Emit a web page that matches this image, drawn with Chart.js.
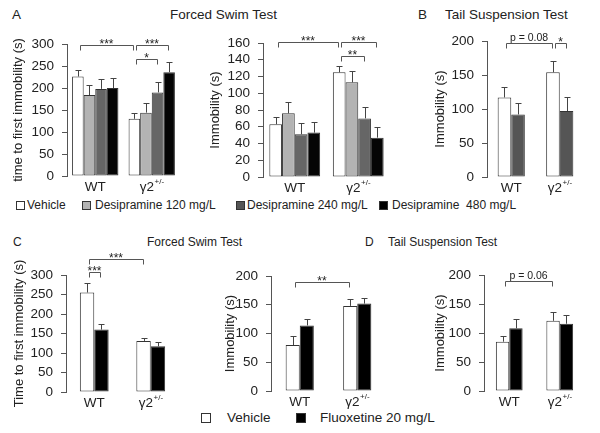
<!DOCTYPE html>
<html><head><meta charset="utf-8">
<script src="https://cdn.jsdelivr.net/npm/chart.js@4.4.1/dist/chart.umd.min.js"></script>
<style>
body{margin:0;background:#fff;width:600px;height:433px;position:relative;overflow:hidden;font-family:"Liberation Sans",Arial,sans-serif;color:#222}
.t{position:absolute;white-space:pre;line-height:1}
canvas{position:absolute}
.sw{position:absolute;width:7px;height:7px;border:1px solid #333}
</style></head><body>
<div class="t" style="left:12px;top:8px;font-size:13.5px">A</div>
<div class="t" style="left:170px;top:8px;font-size:13.5px">Forced Swim Test</div>
<div class="t" style="left:418px;top:8px;font-size:13.5px">B</div>
<div class="t" style="left:445px;top:8px;font-size:13.5px">Tail Suspension Test</div>

<div class="sw" style="left:16px;top:201px;background:#fff"></div>
<div class="t" style="left:27px;top:199px;font-size:12px">Vehicle</div>
<div class="sw" style="left:82px;top:201px;background:#b3b3b3"></div>
<div class="t" style="left:95px;top:199px;font-size:12px">Desipramine 120 mg/L</div>
<div class="sw" style="left:236px;top:201px;background:#555"></div>
<div class="t" style="left:247px;top:199px;font-size:12px">Desipramine 240 mg/L</div>
<div class="sw" style="left:379px;top:201px;background:#000"></div>
<div class="t" style="left:392px;top:199px;font-size:12px">Desipramine  480 mg/L</div>

<div class="t" style="left:13px;top:236px;font-size:12px">C</div>
<div class="t" style="left:147px;top:236px;font-size:12px">Forced Swim Test</div>
<div class="t" style="left:365px;top:236px;font-size:12px">D</div>
<div class="t" style="left:388px;top:236px;font-size:12px">Tail Suspension Test</div>

<div class="sw" style="left:201px;top:413px;width:8px;height:8px;background:#fff"></div>
<div class="t" style="left:227px;top:411px;font-size:13.5px">Vehicle</div>
<div class="sw" style="left:296px;top:413px;width:8px;height:8px;background:#000"></div>
<div class="t" style="left:320px;top:411px;font-size:13.5px">Fluoxetine 20 mg/L</div>

<script>
// ---------- data ----------
const groups = ['WT', 'γ2+/-'];

// A: Forced swim test, time to first immobility (s)
const a1Vehicle = [226, 130], a1VehicleErr = [15, 13];
const a1Desi120 = [184, 144], a1Desi120Err = [23, 23];
const a1Desi240 = [198, 190], a1Desi240Err = [23, 24];
const a1Desi480 = [200, 236], a1Desi480Err = [23, 23];
const a1Brackets = [[0, 0, 0, 1, 297, '***'], [0, 1, 3, 1, 297, '***'], [0, 1, 2, 1, 267, '*']];

// A: Forced swim test, immobility (s)
const a2Vehicle = [63, 125], a2VehicleErr = [9, 8];
const a2Desi120 = [76, 113], a2Desi120Err = [13, 14];
const a2Desi240 = [51, 70], a2Desi240Err = [13, 14];
const a2Desi480 = [53, 47], a2Desi480Err = [13, 13];
const a2Brackets = [[0, 0, 0, 1, 161, '***'], [0, 1, 3, 1, 161, '***'], [0, 1, 2, 1, 144, '**']];

// B: Tail suspension test, immobility (s)
const bVehicle = [117, 154], bVehicleErr = [15, 16];
const bDesi = [92, 97], bDesiErr = [17, 20];
const bBrackets = [[0, 0, 0, 1, 197, 'p = 0.08'], [0, 1, 1, 1, 197, '*']];

// C: Forced swim test, time to first immobility (s)
const c1Vehicle = [255, 131], c1VehicleErr = [24, 7];
const c1Fluox = [160, 117], c1FluoxErr = [14, 12];
const c1Brackets = [[0, 0, 1, 0, 307, '***'], [0, 0, 0, 1, 340, '***']];

// C: Forced swim test, immobility (s)
const c2Vehicle = [80, 148], c2VehicleErr = [15, 12];
const c2Fluox = [114, 152], c2FluoxErr = [11, 9];
const c2Brackets = [[0, 0, 0, 1, 189, '**']];

// D: Tail suspension test, immobility (s)
const dVehicle = [85, 121], dVehicleErr = [9, 15];
const dFluox = [108, 116], dFluoxErr = [17, 15];
const dBrackets = [[0, 0, 0, 1, 190, 'p = 0.06']];

// ---------- drawing ----------
const FONT = '"Liberation Sans", Arial, sans-serif';
const C_VEH = '#ffffff', C_120 = '#b3b3b3', C_240 = '#666666', C_480 = '#050505';

function panel(box, area, cfg) {
  const cv = document.createElement('canvas');
  cv.width = box.w; cv.height = box.h;
  cv.style.left = box.x + 'px'; cv.style.top = box.y + 'px';
  document.body.appendChild(cv);
  const yWidth = area.l - box.x;
  const padTop = area.t - box.y;
  const padRight = box.x + box.w - area.r;
  const xHeight = box.y + box.h - area.b;

  const overlay = {
    id: 'overlay',
    afterDatasetsDraw(chart) {
      const ctx = chart.ctx, ys = chart.scales.y;
      ctx.save();
      ctx.strokeStyle = '#444'; ctx.lineWidth = 1;
      cfg.series.forEach((s, di) => {
        chart.getDatasetMeta(di).data.forEach((bar, ci) => {
          const x = Math.round(bar.x) + 0.5;
          const y0 = ys.getPixelForValue(s.data[ci]);
          const y1 = Math.round(ys.getPixelForValue(s.data[ci] + s.err[ci])) + 0.5;
          ctx.beginPath();
          ctx.moveTo(x, y0); ctx.lineTo(x, y1);
          ctx.moveTo(x - 3, y1); ctx.lineTo(x + 3, y1);
          ctx.stroke();
        });
      });
      // significance brackets
      ctx.strokeStyle = '#555';
      cfg.brackets.forEach(([da, ca, db, cb, v, lab]) => {
        const x1 = Math.round(chart.getDatasetMeta(da).data[ca].x) + 2;
        const x2 = Math.round(chart.getDatasetMeta(db).data[cb].x) - 1;
        const y = Math.round(ys.getPixelForValue(v)) + 0.5;
        ctx.beginPath();
        ctx.moveTo(x1 + 0.5, y + 5); ctx.lineTo(x1 + 0.5, y); ctx.lineTo(x2 + 0.5, y); ctx.lineTo(x2 + 0.5, y + 5);
        ctx.stroke();
        ctx.fillStyle = '#222';
        ctx.textAlign = 'center'; ctx.textBaseline = 'alphabetic';
        if (/^\*+$/.test(lab)) { ctx.font = '12px ' + FONT; ctx.fillText(lab, (x1 + x2) / 2, y + 2.5); }
        else { ctx.font = '10.5px ' + FONT; ctx.fillText(lab, (x1 + x2) / 2, y - 3); }
      });
      // category labels
      const xs = chart.scales.x;
      ctx.fillStyle = '#222'; ctx.textBaseline = 'middle'; ctx.textAlign = 'left';
      groups.forEach((g, i) => {
        const cx = xs.getPixelForValue(i);
        const ly = area.b - box.y + 11;
        const parts = g.split('2');
        if (parts.length > 1 && parts[1]) {
          const main = parts[0] + '2', sup = parts[1];
          ctx.font = '13.5px ' + FONT; const w1 = ctx.measureText(main).width;
          ctx.font = '8px ' + FONT; const w2 = ctx.measureText(sup).width;
          const sx = cx - (w1 + w2) / 2;
          ctx.font = '13.5px ' + FONT; ctx.fillText(main, sx, ly);
          ctx.font = '8px ' + FONT; ctx.fillText(sup, sx + w1 + 0.5, ly - 5);
        } else {
          ctx.font = '13.5px ' + FONT; ctx.textAlign = 'center'; ctx.fillText(g, cx, ly); ctx.textAlign = 'left';
        }
      });
      ctx.restore();
    }
  };

  new Chart(cv, {
    type: 'bar',
    data: {
      labels: groups,
      datasets: cfg.series.map(s => ({
        label: s.label, data: s.data, backgroundColor: s.color,
        borderColor: '#333', borderWidth: 1, borderSkipped: false,
        barPercentage: 1, categoryPercentage: cfg.catPct
      }))
    },
    options: {
      responsive: false, animation: false,
      layout: { padding: { top: padTop, right: padRight, left: 0, bottom: 0 } },
      plugins: { legend: { display: false }, tooltip: { enabled: false } },
      scales: {
        x: {
          grid: { display: false }, border: { display: false },
          ticks: { display: false },
          afterFit: s => { s.height = xHeight; }
        },
        y: {
          min: 0, max: cfg.yMax,
          ticks: { stepSize: cfg.yStep, autoSkip: false, color: '#222', font: { family: FONT, size: 13.5 }, padding: 8 },
          grid: { drawOnChartArea: false, tickLength: 5, color: '#555' },
          border: { display: true, color: '#555', width: 1 },
          title: {
            display: true, text: cfg.yTitle, color: '#222',
            font: { family: FONT, size: 13 },
            padding: { top: cfg.titleX - box.x - 7.8, bottom: 0 }
          },
          afterFit: s => { s.width = yWidth; }
        }
      }
    },
    plugins: [overlay]
  });
}

panel({ x: 0, y: 0, w: 196, h: 197 }, { l: 67, r: 180, t: 44, b: 176 }, {
  series: [
    { label: 'Vehicle', data: a1Vehicle, err: a1VehicleErr, color: C_VEH },
    { label: 'Desipramine 120 mg/L', data: a1Desi120, err: a1Desi120Err, color: C_120 },
    { label: 'Desipramine 240 mg/L', data: a1Desi240, err: a1Desi240Err, color: C_240 },
    { label: 'Desipramine 480 mg/L', data: a1Desi480, err: a1Desi480Err, color: C_480 }
  ],
  yMax: 300, yStep: 50, yTitle: 'time to first immobility (s)', titleX: 18, catPct: 0.82, brackets: a1Brackets
});

panel({ x: 196, y: 0, w: 204, h: 197 }, { l: 263, r: 390, t: 43, b: 177 }, {
  series: [
    { label: 'Vehicle', data: a2Vehicle, err: a2VehicleErr, color: C_VEH },
    { label: 'Desipramine 120 mg/L', data: a2Desi120, err: a2Desi120Err, color: C_120 },
    { label: 'Desipramine 240 mg/L', data: a2Desi240, err: a2Desi240Err, color: C_240 },
    { label: 'Desipramine 480 mg/L', data: a2Desi480, err: a2Desi480Err, color: C_480 }
  ],
  yMax: 160, yStep: 20, yTitle: 'Immobility (s)', titleX: 215, catPct: 0.80, brackets: a2Brackets
});

panel({ x: 400, y: 0, w: 200, h: 197 }, { l: 487, r: 584, t: 41, b: 177 }, {
  series: [
    { label: 'Vehicle', data: bVehicle, err: bVehicleErr, color: C_VEH },
    { label: 'Desipramine', data: bDesi, err: bDesiErr, color: '#555555' }
  ],
  yMax: 200, yStep: 50, yTitle: 'Immobility (s)', titleX: 440, catPct: 0.56, brackets: bBrackets
});

panel({ x: 0, y: 228, w: 196, h: 205 }, { l: 66, r: 179, t: 275, b: 392 }, {
  series: [
    { label: 'Vehicle', data: c1Vehicle, err: c1VehicleErr, color: C_VEH },
    { label: 'Fluoxetine 20 mg/L', data: c1Fluox, err: c1FluoxErr, color: '#000000' }
  ],
  yMax: 300, yStep: 50, yTitle: 'Time to first immobility (s)', titleX: 19, catPct: 0.51, brackets: c1Brackets
});

panel({ x: 196, y: 228, w: 204, h: 205 }, { l: 271, r: 386, t: 276, b: 391 }, {
  series: [
    { label: 'Vehicle', data: c2Vehicle, err: c2VehicleErr, color: C_VEH },
    { label: 'Fluoxetine 20 mg/L', data: c2Fluox, err: c2FluoxErr, color: '#000000' }
  ],
  yMax: 200, yStep: 50, yTitle: 'Immobility (s)', titleX: 230, catPct: 0.49, brackets: c2Brackets
});

panel({ x: 400, y: 228, w: 200, h: 205 }, { l: 484, r: 585, t: 275, b: 391 }, {
  series: [
    { label: 'Vehicle', data: dVehicle, err: dVehicleErr, color: C_VEH },
    { label: 'Fluoxetine 20 mg/L', data: dFluox, err: dFluoxErr, color: '#000000' }
  ],
  yMax: 200, yStep: 50, yTitle: 'Immobility (s)', titleX: 440, catPct: 0.53, brackets: dBrackets
});
</script>
</body></html>
